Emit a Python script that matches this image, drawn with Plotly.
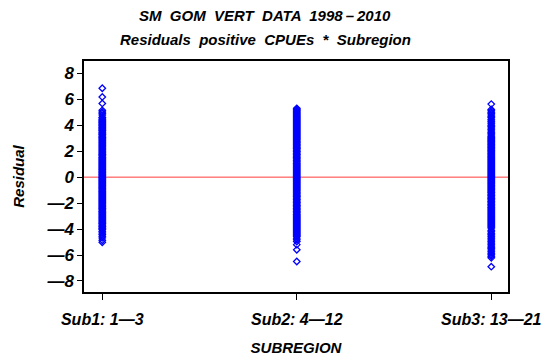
import plotly.graph_objects as go

# Residuals of the positive-CPUE model, grouped by subregion
subregions = ["Sub1: 1\u20143", "Sub2: 4\u201412", "Sub3: 13\u201421"]

resid_sub1 = [
    6.85, 6.18, 5.68, 5.15, 5.02, 4.92, 4.78, 4.62, 4.55, 4.44, 4.36, 4.28,
    4.21, 4.15, 4.06, 3.99, 3.92, 3.83, 3.77, 3.69, 3.61, 3.55, 3.46, 3.39,
    3.31, 3.24, 3.16, 3.08, 3.01, 2.93, 2.86, 2.78, 2.7, 2.63, 2.55, 2.47,
    2.4, 2.33, 2.25, 2.17, 2.1, 2.02, 1.94, 1.87, 1.79, 1.72, 1.64, 1.56,
    1.49, 1.41, 1.34, 1.26, 1.18, 1.11, 1.03, 0.96, 0.88, 0.8, 0.73, 0.65,
    0.58, 0.5, 0.42, 0.35, 0.27, 0.2, 0.12, 0.04, -0.03, -0.11, -0.18, -0.26,
    -0.34, -0.41, -0.49, -0.56, -0.64, -0.72, -0.79, -0.87, -0.94, -1.02,
    -1.1, -1.17, -1.25, -1.32, -1.4, -1.48, -1.55, -1.63, -1.7, -1.78, -1.86,
    -1.93, -2.01, -2.08, -2.16, -2.24, -2.31, -2.39, -2.46, -2.54, -2.62,
    -2.69, -2.77, -2.84, -2.92, -3.0, -3.07, -3.15, -3.22, -3.3, -3.38,
    -3.45, -3.53, -3.6, -3.68, -3.76, -3.83, -3.91, -3.98, -4.06,
    -4.18, -4.3, -4.42, -4.55, -4.68, -4.86, -5.02,
]

resid_sub2 = [
    5.3, 5.23, 5.15, 5.07, 4.99, 4.92, 4.84, 4.76, 4.69, 4.61, 4.53, 4.46,
    4.38, 4.3, 4.23, 4.15, 4.07, 4.0, 3.92, 3.84, 3.77, 3.69, 3.61, 3.54,
    3.46, 3.38, 3.31, 3.23, 3.15, 3.08, 3.0, 2.92, 2.85, 2.77, 2.69, 2.62,
    2.54, 2.46, 2.39, 2.31, 2.23, 2.16, 2.08, 2.0, 1.93, 1.85, 1.77, 1.7,
    1.62, 1.54, 1.47, 1.39, 1.31, 1.24, 1.16, 1.08, 1.01, 0.93, 0.85, 0.78,
    0.7, 0.62, 0.55, 0.47, 0.39, 0.32, 0.24, 0.16, 0.09, 0.01, -0.07, -0.14,
    -0.22, -0.3, -0.37, -0.45, -0.53, -0.6, -0.68, -0.76, -0.83, -0.91,
    -0.99, -1.06, -1.14, -1.22, -1.29, -1.37, -1.45, -1.52, -1.6, -1.68,
    -1.75, -1.83, -1.91, -1.98, -2.06, -2.14, -2.21, -2.29, -2.37, -2.44,
    -2.52, -2.6, -2.67, -2.75, -2.83, -2.9, -2.98, -3.06, -3.13, -3.21,
    -3.29, -3.36, -3.44, -3.52, -3.59, -3.67, -3.75, -3.82, -3.9, -3.98,
    -4.05, -4.13, -4.21, -4.28, -4.36, -4.44, -4.51, -4.58,
    -4.7, -4.82, -4.96, -5.2, -5.6, -6.5,
]

resid_sub3 = [
    5.63,
    5.22, 5.12, 5.0, 4.9, 4.78, 4.66, 4.57, 4.45, 4.33, 4.24, 4.12, 4.0,
    3.9, 3.78, 3.68, 3.56, 3.45, 3.35, 3.24, 3.14,
    3.06, 2.98, 2.91, 2.83, 2.75, 2.68, 2.6, 2.52, 2.45, 2.37, 2.29, 2.22,
    2.14, 2.06, 1.99, 1.91, 1.83, 1.76, 1.68, 1.6, 1.53, 1.45, 1.37, 1.3,
    1.22, 1.14, 1.07, 0.99, 0.91, 0.84, 0.76, 0.68, 0.61, 0.53, 0.45, 0.38,
    0.3, 0.22, 0.15, 0.07, -0.01, -0.08, -0.16, -0.24, -0.31, -0.39, -0.47,
    -0.54, -0.62, -0.7, -0.77, -0.85, -0.93, -1.0, -1.08, -1.16, -1.23,
    -1.31, -1.39, -1.46, -1.54, -1.62, -1.69, -1.77, -1.85, -1.92, -2.0,
    -2.08, -2.15, -2.23, -2.31, -2.38, -2.46, -2.54, -2.61, -2.69, -2.77,
    -2.84, -2.92, -3.0, -3.07, -3.15, -3.23, -3.3, -3.38, -3.46, -3.53,
    -3.61, -3.69, -3.76, -3.84, -3.92,
    -4.1, -4.2, -4.32, -4.41, -4.53, -4.62, -4.74, -4.85, -4.95, -5.07,
    -5.18, -5.3, -5.41, -5.5, -5.62, -5.75, -5.86, -5.98, -6.1, -6.22,
    -6.9,
]

y_ticks = [-8, -6, -4, -2, 0, 2, 4, 6, 8]
y_tick_text = ["\u20148", "\u20146", "\u20144", "\u20142", "0", "2", "4", "6", "8"]

title_lines = [
    "SM  GOM  VERT  DATA  1998\u2009\u2013\u20092010",
    "Residuals  positive  CPUEs  *  Subregion",
]

FONT = "Liberation Sans, Arial, sans-serif"
TEXT = dict(family=FONT, size=15, style="italic", weight="bold", color="black")

fig = go.Figure()
for name, vals in zip(subregions, [resid_sub1, resid_sub2, resid_sub3]):
    fig.add_trace(go.Scatter(
        x=[name] * len(vals),
        y=vals,
        mode="markers",
        marker=dict(symbol="diamond-open", size=5, color="#0000ff",
                    line=dict(width=1.3, color="#0000ff")),
        showlegend=False,
        hoverinfo="y",
    ))

# zero reference line
fig.add_shape(type="line", xref="paper", yref="y", x0=0, x1=1, y0=0, y1=0,
              line=dict(color="#ff3b3b", width=1), layer="below")

# two-line title placed as annotations above the frame
for text, ypos in zip(title_lines, [1.199, 1.091]):
    fig.add_annotation(
        text=text, xref="paper", yref="paper", x=0.427, y=ypos,
        xanchor="center", yanchor="middle", showarrow=False, font=TEXT,
    )

fig.update_layout(
    width=546, height=360,
    margin=dict(l=84, r=38, t=61, b=68, autoexpand=False),
    paper_bgcolor="white", plot_bgcolor="white",
    font=dict(family=FONT, color="black"),
    xaxis=dict(
        type="category", categoryorder="array", categoryarray=subregions,
        range=[-0.094, 2.086], automargin=False,
        showgrid=False, zeroline=False,
        showline=True, linecolor="black", linewidth=1.5, mirror=True,
        ticks="outside", ticklen=6, tickcolor="black", tickwidth=1,
        ticklabelstandoff=6,
        tickfont=dict(family=FONT, size=16, style="italic", weight="bold"),
        title=dict(text="SUBREGION", standoff=16, font=TEXT),
    ),
    yaxis=dict(
        range=[-8.85, 8.95], automargin=False,
        tickvals=y_ticks, ticktext=y_tick_text,
        showgrid=False, zeroline=False,
        showline=True, linecolor="black", linewidth=1.5, mirror=True,
        ticks="outside", ticklen=5, tickcolor="black", tickwidth=1,
        tickfont=dict(family=FONT, size=17, style="italic", weight="bold"),
        title=dict(text="Residual", standoff=18, font=TEXT),
    ),
)

fig.write_html("out.html")
